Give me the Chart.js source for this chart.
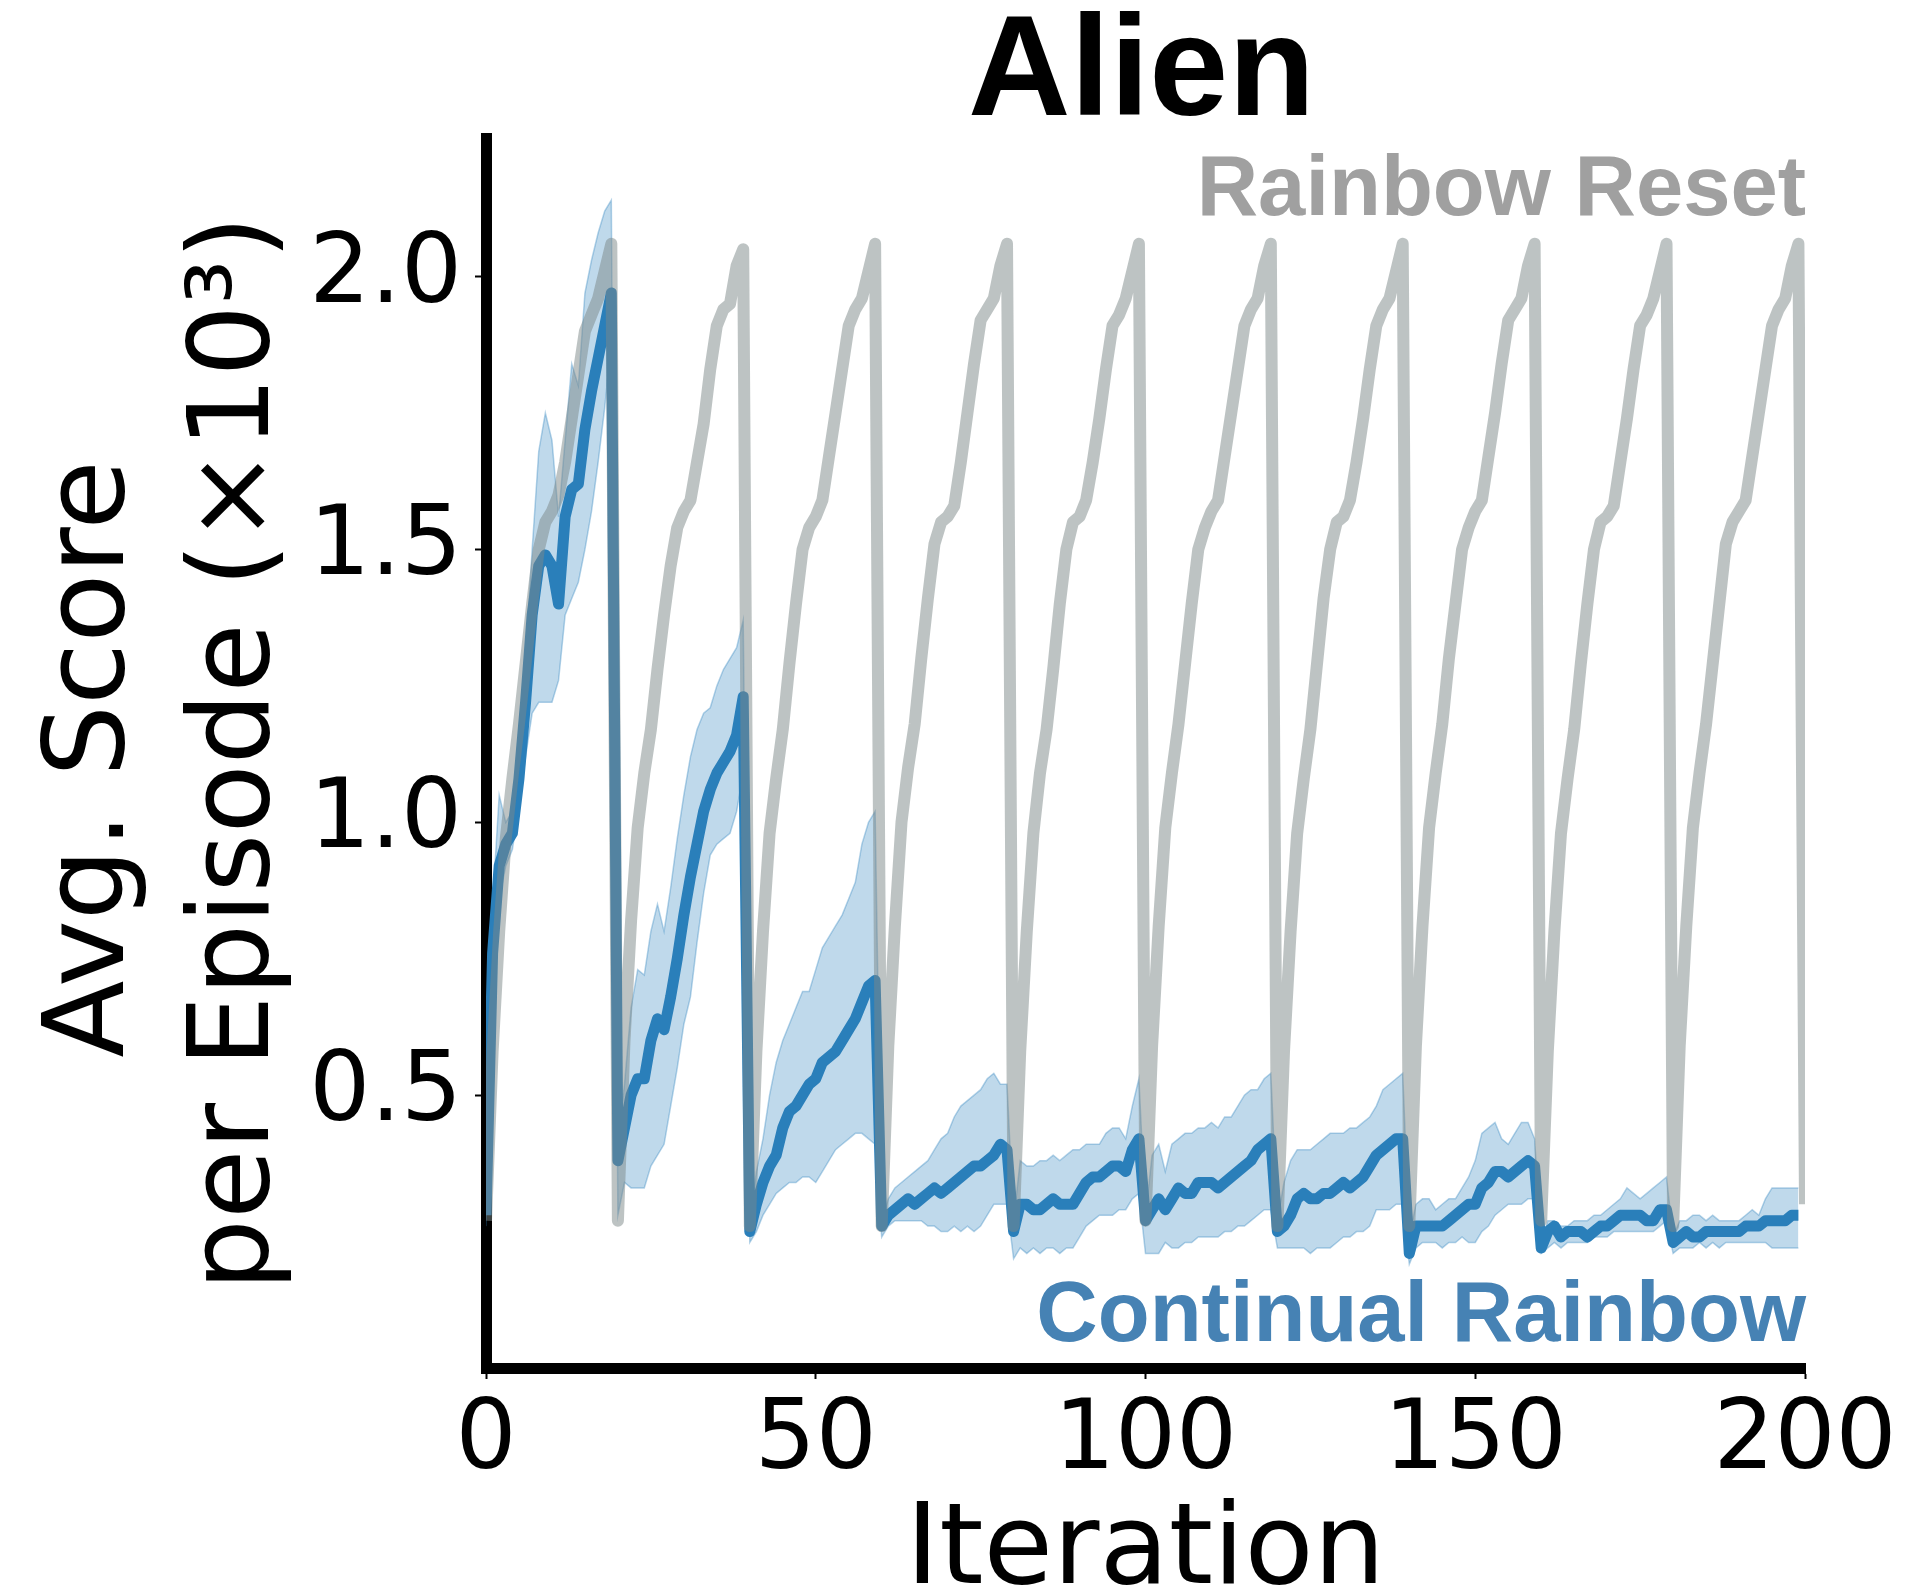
<!DOCTYPE html>
<html>
<head>
<meta charset="utf-8">
<script src="https://cdn.jsdelivr.net/npm/chart.js@4/dist/chart.umd.min.js"></script>
<style>
  html, body { margin: 0; padding: 0; background: #fff; }
  canvas { display: block; }
</style>
</head>
<body>
<canvas id="chart" width="1911" height="1596"></canvas>
<script>
var TITLE = 'Alien';
var X_LABEL = 'Iteration';
var Y_LABEL = ['Avg. Score', 'per Episode (×10³)'];
var RESET_LABEL = 'Rainbow Reset';
var CONTINUAL_LABEL = 'Continual Rainbow';

var xTickValues = [0, 50, 100, 150, 200];
var yTickValues = [0.5, 1.0, 1.5, 2.0];

// iterations 0..200
var iterations = [];
for (var i = 0; i <= 200; i++) iterations.push(i);

// Rainbow Reset, one row per 20-iteration cycle (+ last point)
var resetScores = [
  0.27, 0.58, 0.80, 0.97, 1.08, 1.18, 1.29, 1.40, 1.50, 1.55, 1.57, 1.60, 1.66, 1.74, 1.82, 1.90, 1.93, 1.96, 2.01, 2.06,
  0.27, 0.60, 0.82, 0.99, 1.09, 1.17, 1.28, 1.38, 1.47, 1.54, 1.57, 1.59, 1.66, 1.73, 1.83, 1.91, 1.94, 1.95, 2.02, 2.05,
  0.26, 0.58, 0.80, 0.98, 1.08, 1.17, 1.29, 1.40, 1.50, 1.54, 1.56, 1.59, 1.67, 1.75, 1.83, 1.91, 1.94, 1.96, 2.01, 2.06,
  0.26, 0.59, 0.81, 1.00, 1.10, 1.18, 1.30, 1.41, 1.51, 1.55, 1.56, 1.58, 1.66, 1.75, 1.84, 1.92, 1.94, 1.96, 2.02, 2.06,
  0.26, 0.58, 0.80, 0.98, 1.09, 1.17, 1.28, 1.40, 1.50, 1.55, 1.56, 1.59, 1.66, 1.74, 1.83, 1.91, 1.93, 1.96, 2.01, 2.06,
  0.27, 0.59, 0.81, 0.99, 1.09, 1.18, 1.29, 1.40, 1.50, 1.54, 1.57, 1.59, 1.67, 1.75, 1.83, 1.91, 1.94, 1.96, 2.02, 2.06,
  0.26, 0.58, 0.80, 0.98, 1.08, 1.17, 1.29, 1.41, 1.50, 1.55, 1.56, 1.59, 1.66, 1.74, 1.83, 1.91, 1.94, 1.96, 2.01, 2.06,
  0.26, 0.59, 0.81, 0.99, 1.09, 1.18, 1.30, 1.40, 1.50, 1.54, 1.57, 1.59, 1.67, 1.75, 1.84, 1.92, 1.94, 1.96, 2.02, 2.06,
  0.27, 0.58, 0.80, 0.98, 1.08, 1.17, 1.29, 1.40, 1.50, 1.55, 1.56, 1.58, 1.66, 1.74, 1.83, 1.91, 1.93, 1.96, 2.01, 2.06,
  0.26, 0.59, 0.81, 0.99, 1.09, 1.18, 1.29, 1.40, 1.51, 1.55, 1.57, 1.59, 1.67, 1.75, 1.83, 1.91, 1.94, 1.96, 2.02, 2.06,
  0.30
];

// Continual Rainbow mean, iterations 0..199
var continualMean = [
  0.28, 0.76, 0.92, 0.96, 0.98, 1.08, 1.22, 1.38, 1.47, 1.49, 1.47, 1.40, 1.56, 1.61, 1.62, 1.72, 1.79, 1.85, 1.91, 1.97,
  0.38, 0.44, 0.50, 0.53, 0.53, 0.60, 0.64, 0.62, 0.68, 0.75, 0.83, 0.90, 0.96, 1.02, 1.06, 1.09, 1.11, 1.13, 1.16, 1.23,
  0.25, 0.30, 0.34, 0.37, 0.39, 0.44, 0.47, 0.48, 0.50, 0.52, 0.53, 0.56, 0.57, 0.58, 0.60, 0.62, 0.64, 0.67, 0.70, 0.71,
  0.26, 0.28, 0.29, 0.30, 0.31, 0.30, 0.31, 0.32, 0.33, 0.32, 0.33, 0.34, 0.35, 0.36, 0.37, 0.37, 0.38, 0.39, 0.41, 0.40,
  0.25, 0.30, 0.30, 0.29, 0.29, 0.30, 0.31, 0.30, 0.30, 0.30, 0.32, 0.34, 0.35, 0.35, 0.36, 0.37, 0.37, 0.36, 0.40, 0.42,
  0.27, 0.29, 0.31, 0.29, 0.31, 0.33, 0.32, 0.32, 0.34, 0.34, 0.34, 0.33, 0.34, 0.35, 0.36, 0.37, 0.38, 0.40, 0.41, 0.42,
  0.25, 0.26, 0.28, 0.31, 0.32, 0.31, 0.31, 0.32, 0.32, 0.33, 0.34, 0.33, 0.34, 0.35, 0.37, 0.39, 0.40, 0.41, 0.42, 0.42,
  0.21, 0.26, 0.26, 0.26, 0.26, 0.26, 0.27, 0.28, 0.29, 0.30, 0.30, 0.33, 0.34, 0.36, 0.36, 0.35, 0.36, 0.37, 0.38, 0.37,
  0.22, 0.25, 0.26, 0.24, 0.25, 0.25, 0.25, 0.24, 0.25, 0.26, 0.26, 0.27, 0.28, 0.28, 0.28, 0.28, 0.27, 0.27, 0.29, 0.29,
  0.23, 0.24, 0.25, 0.24, 0.24, 0.25, 0.25, 0.25, 0.25, 0.25, 0.25, 0.26, 0.26, 0.26, 0.27, 0.27, 0.27, 0.27, 0.28, 0.28
];

var continualUpper = [
  0.30, 0.85, 1.05, 1.00, 1.02, 1.12, 1.30, 1.50, 1.68, 1.75, 1.70, 1.56, 1.70, 1.84, 1.80, 1.97, 2.03, 2.08, 2.12, 2.14,
  0.42, 0.52, 0.66, 0.73, 0.72, 0.80, 0.85, 0.80, 0.88, 0.97, 1.05, 1.12, 1.17, 1.20, 1.21, 1.25, 1.28, 1.30, 1.32, 1.37,
  0.27, 0.36, 0.42, 0.50, 0.56, 0.60, 0.63, 0.66, 0.69, 0.69, 0.73, 0.77, 0.79, 0.81, 0.83, 0.86, 0.89, 0.96, 1.00, 1.02,
  0.27, 0.31, 0.33, 0.34, 0.35, 0.36, 0.37, 0.38, 0.40, 0.42, 0.43, 0.46, 0.48, 0.49, 0.50, 0.51, 0.53, 0.54, 0.52, 0.52,
  0.27, 0.38, 0.37, 0.37, 0.38, 0.38, 0.39, 0.38, 0.39, 0.40, 0.40, 0.41, 0.41, 0.41, 0.43, 0.44, 0.44, 0.42, 0.48, 0.53,
  0.28, 0.39, 0.41, 0.36, 0.41, 0.42, 0.43, 0.43, 0.44, 0.44, 0.45, 0.44, 0.46, 0.46, 0.48, 0.50, 0.51, 0.51, 0.53, 0.54,
  0.27, 0.34, 0.38, 0.40, 0.40, 0.40, 0.41, 0.42, 0.43, 0.43, 0.43, 0.44, 0.44, 0.45, 0.46, 0.48, 0.51, 0.52, 0.53, 0.54,
  0.24, 0.30, 0.31, 0.31, 0.29, 0.30, 0.31, 0.31, 0.33, 0.35, 0.38, 0.43, 0.44, 0.45, 0.42, 0.41, 0.43, 0.45, 0.45, 0.42,
  0.23, 0.27, 0.27, 0.26, 0.26, 0.27, 0.27, 0.27, 0.28, 0.28, 0.29, 0.30, 0.31, 0.33, 0.32, 0.31, 0.32, 0.33, 0.34, 0.35,
  0.24, 0.27, 0.27, 0.28, 0.28, 0.27, 0.28, 0.27, 0.27, 0.27, 0.27, 0.28, 0.29, 0.28, 0.31, 0.33, 0.33, 0.33, 0.33, 0.33
];

var continualLower = [
  0.26, 0.70, 0.86, 0.92, 0.95, 1.03, 1.12, 1.20, 1.22, 1.22, 1.22, 1.26, 1.38, 1.41, 1.44, 1.50, 1.57, 1.66, 1.76, 1.88,
  0.28, 0.34, 0.33, 0.33, 0.33, 0.37, 0.39, 0.41, 0.48, 0.55, 0.63, 0.68, 0.78, 0.87, 0.94, 0.96, 0.97, 0.98, 1.02, 1.09,
  0.23, 0.25, 0.28, 0.30, 0.32, 0.33, 0.34, 0.34, 0.35, 0.35, 0.34, 0.36, 0.38, 0.40, 0.41, 0.42, 0.43, 0.43, 0.42, 0.41,
  0.24, 0.26, 0.27, 0.27, 0.27, 0.27, 0.27, 0.26, 0.26, 0.25, 0.25, 0.26, 0.25, 0.26, 0.25, 0.26, 0.28, 0.30, 0.30, 0.30,
  0.20, 0.22, 0.21, 0.22, 0.21, 0.22, 0.22, 0.21, 0.22, 0.22, 0.24, 0.26, 0.27, 0.28, 0.28, 0.28, 0.29, 0.29, 0.31, 0.32,
  0.21, 0.21, 0.21, 0.23, 0.22, 0.22, 0.23, 0.23, 0.24, 0.24, 0.24, 0.24, 0.25, 0.25, 0.26, 0.26, 0.27, 0.28, 0.29, 0.29,
  0.22, 0.22, 0.22, 0.22, 0.22, 0.21, 0.22, 0.22, 0.22, 0.23, 0.24, 0.24, 0.25, 0.25, 0.26, 0.29, 0.29, 0.29, 0.30, 0.30,
  0.19, 0.22, 0.23, 0.23, 0.23, 0.22, 0.23, 0.23, 0.24, 0.23, 0.23, 0.25, 0.26, 0.28, 0.29, 0.30, 0.30, 0.30, 0.31, 0.31,
  0.21, 0.22, 0.23, 0.22, 0.23, 0.23, 0.23, 0.23, 0.24, 0.24, 0.24, 0.25, 0.25, 0.25, 0.25, 0.25, 0.25, 0.25, 0.26, 0.27,
  0.21, 0.22, 0.22, 0.22, 0.23, 0.22, 0.23, 0.22, 0.23, 0.23, 0.23, 0.23, 0.23, 0.23, 0.23, 0.22, 0.22, 0.22, 0.22, 0.22
];

var BLUE = '#2a7fba';
var GRAY = 'rgba(123, 135, 135, 0.5)';

function toPoints(values) {
  return values.map(function (v, i) { return {x: iterations[i], y: v}; });
}

var textPlugin = {
  id: 'texts',
  afterDraw: function (chart) {
    var ctx = chart.ctx;
    var a = chart.chartArea;
    var midX = (a.left + a.right) / 2;
    var midY = (a.top + a.bottom) / 2;
    ctx.save();
    ctx.textBaseline = 'alphabetic';

    ctx.fillStyle = '#000';
    ctx.textAlign = 'center';
    ctx.font = 'bold 142px "Liberation Sans", Arial, sans-serif';
    ctx.fillText(TITLE, midX - 4, 115);

    ctx.textAlign = 'right';
    ctx.font = 'bold 85px "Liberation Sans", Arial, sans-serif';
    ctx.fillStyle = '#a0a0a0';
    ctx.fillText(RESET_LABEL, a.right + 1, 215);
    ctx.fillStyle = '#4682b4';
    ctx.fillText(CONTINUAL_LABEL, a.right + 1, 1341);

    ctx.fillStyle = '#000';
    ctx.textAlign = 'center';
    ctx.font = '113px "DejaVu Sans", sans-serif';
    ctx.fillText(X_LABEL, midX, 1583);

    ctx.translate(0, midY);
    ctx.rotate(-Math.PI / 2);
    ctx.fillText(Y_LABEL[0], -6, 123);
    ctx.fillText(Y_LABEL[1], 0, 268);
    ctx.restore();
  }
};

new Chart(document.getElementById('chart').getContext('2d'), {
  type: 'line',
  data: {
    datasets: [
      {
        label: RESET_LABEL,
        data: toPoints(resetScores),
        borderColor: GRAY,
        borderWidth: 12,
        pointRadius: 0,
        tension: 0,
        fill: false,
        borderJoinStyle: 'round',
        order: 0
      },
      {
        label: CONTINUAL_LABEL,
        data: toPoints(continualMean),
        borderColor: BLUE,
        borderWidth: 11,
        pointRadius: 0,
        tension: 0,
        fill: false,
        borderJoinStyle: 'round',
        order: 1
      },
      {
        label: 'upper',
        data: toPoints(continualUpper),
        borderColor: 'rgba(42, 128, 190, 0.35)',
        borderWidth: 1.5,
        backgroundColor: 'rgba(42, 128, 190, 0.3)',
        pointRadius: 0,
        tension: 0,
        fill: '+1',
        order: 2
      },
      {
        label: 'lower',
        data: toPoints(continualLower),
        borderColor: 'rgba(42, 128, 190, 0.35)',
        borderWidth: 1.5,
        pointRadius: 0,
        tension: 0,
        fill: false,
        order: 2
      }
    ]
  },
  options: {
    responsive: false,
    animation: false,
    layout: { padding: { left: 0, top: 138, right: 106, bottom: 0 } },
    plugins: {
      legend: { display: false },
      tooltip: { enabled: false },
      title: { display: false }
    },
    scales: {
      x: {
        type: 'linear',
        min: 0,
        max: 200,
        afterBuildTicks: function (scale) {
          scale.ticks = xTickValues.map(function (v) { return {value: v}; });
        },
        afterFit: function (scale) { scale.height = 228; },
        grid: { drawOnChartArea: false, drawTicks: true, tickLength: 11, tickWidth: 2, tickColor: '#000' },
        border: { display: true, color: '#000', width: 11 },
        ticks: {
          color: '#000',
          padding: 6,
          maxRotation: 0,
          font: { family: '"DejaVu Sans", sans-serif', size: 96 },
          callback: function (v) { return String(v); }
        }
      },
      y: {
        type: 'linear',
        min: 0,
        max: 2.254,
        afterBuildTicks: function (scale) {
          scale.ticks = yTickValues.map(function (v) { return {value: v}; });
        },
        afterFit: function (scale) { scale.width = 486; },
        grid: { drawOnChartArea: false, drawTicks: true, tickLength: 11, tickWidth: 2, tickColor: '#000' },
        border: { display: true, color: '#000', width: 11 },
        ticks: {
          color: '#000',
          padding: 13,
          font: { family: '"DejaVu Sans", sans-serif', size: 96 },
          callback: function (v) { return Number(v).toFixed(1); }
        }
      }
    }
  },
  plugins: [textPlugin]
});
</script>
</body>
</html>
